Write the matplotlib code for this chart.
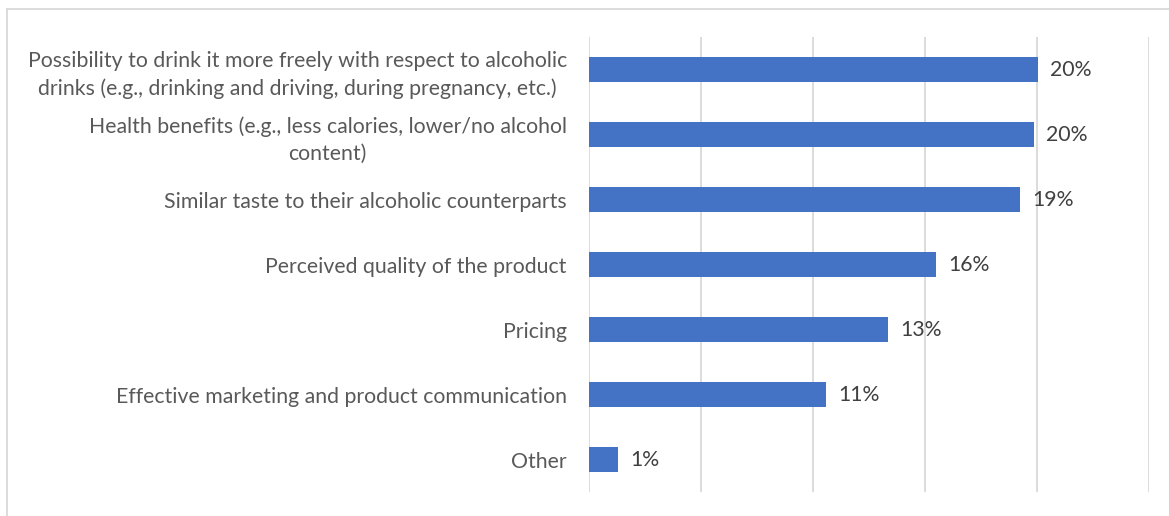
import matplotlib
matplotlib.use("Agg")
import matplotlib.pyplot as plt
from matplotlib.lines import Line2D

plt.rcParams["font.family"] = ["Lato", "DejaVu Sans"]

# survey answers, top to bottom
labels = [
    "Possibility to drink it more freely with respect to alcoholic\ndrinks (e.g., drinking and driving, during pregnancy, etc.)",
    "Health benefits (e.g., less calories, lower/no alcohol\ncontent)",
    "Similar taste to their alcoholic counterparts",
    "Perceived quality of the product",
    "Pricing",
    "Effective marketing and product communication",
    "Other",
]
shares = [20.05, 19.85, 19.25, 15.5, 13.35, 10.6, 1.28]

bar_color = "#4472C4"
grid_color = "#D9D9D9"
text_color = "#595959"

fig = plt.figure(figsize=(11.69, 5.16), dpi=100)
ax = fig.add_axes([589 / 1169, 1 - 492 / 516, 560 / 1169, 455 / 516])

ypos = list(range(len(labels)))
ax.barh(ypos, shares, height=0.38, color=bar_color, zorder=2)

for y, v in zip(ypos, shares):
    ax.text(v + 0.55, y, f"{v:.0f}%", va="center", ha="left",
            fontsize=15.3, color="#404040")

ax.set_xlim(0, 25)
ax.set_ylim(len(labels) - 0.5, -0.5)
ax.set_xticks([0, 5, 10, 15, 20, 25])
ax.set_xticklabels([])
ax.tick_params(axis="x", length=0)
ax.tick_params(axis="y", length=0, pad=16)
ax.set_yticks(ypos)
ax.set_yticklabels(labels, fontsize=15.3, color=text_color,
                   multialignment="center", linespacing=1.42)
ax.grid(axis="x", color=grid_color, linewidth=1.3, zorder=0)
for s in ax.spines.values():
    s.set_visible(False)

# outer chart frame (top and left edges)
fig.add_artist(Line2D([7 / 1169, 1.0], [1 - 9 / 516] * 2, color=grid_color, linewidth=1.3))
fig.add_artist(Line2D([7 / 1169] * 2, [0.0, 1 - 9 / 516], color=grid_color, linewidth=1.3))

fig.savefig("out.png", dpi=100)
